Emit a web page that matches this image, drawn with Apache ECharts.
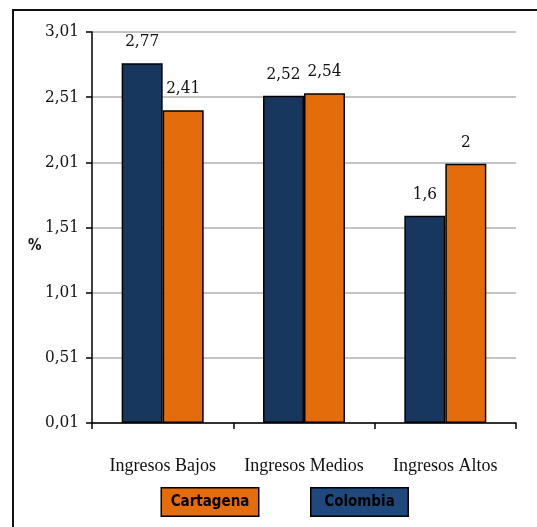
<!DOCTYPE html>
<html>
<head>
<meta charset="utf-8">
<script src="https://cdn.jsdelivr.net/npm/echarts@6/dist/echarts.min.js"></script>
<style>
  html, body { margin: 0; padding: 0; background: #fff; }
  #chart { width: 537px; height: 527px; }
</style>
</head>
<body>
<div id="chart"></div>
<script>
// Income groups and the share (%) for each territory
const categories = ['Ingresos Bajos', 'Ingresos Medios', 'Ingresos Altos'];
const colombia = [2.77, 2.52, 1.6];
const cartagena = [2.41, 2.54, 2];
const yTickStep = 0.5;
// the value axis starts at 0,01 instead of zero
const axisBase = 0.01;

const serif = "'DejaVu Serif Condensed', 'Liberation Serif', serif";
const plainSerif = "'Liberation Serif', serif";
const narrowSans = "'DejaVu Sans Condensed', 'Liberation Sans', sans-serif";
const comma = v => String(+v.toFixed(2)).replace('.', ',');

function barSeries(name, values, color) {
  return {
    name: name,
    type: 'bar',
    barWidth: 41,
    barGap: '0%',
    // bar length measured from the axis base
    data: values.map(v => v - axisBase),
    itemStyle: { color: color, borderColor: '#000', borderWidth: 1.5 },
    label: {
      show: true,
      position: 'top',
      distance: 13,
      fontFamily: serif,
      fontSize: 17,
      color: '#111',
      formatter: p => comma(values[p.dataIndex])
    }
  };
}

// legend entries are drawn as filled boxes with the name centred inside
const legendFontSize = 15;
const legendBoxWidth = 96;
const measureCtx = document.createElement('canvas').getContext('2d');
function legendBox(name, bg) {
  measureCtx.font = 'bold ' + legendFontSize + 'px ' + narrowSans;
  const side = Math.max(2, (legendBoxWidth - measureCtx.measureText(name).width) / 2);
  return {
    name: name,
    textStyle: {
      backgroundColor: bg,
      borderColor: '#000',
      borderWidth: 1.5,
      height: 19,
      padding: [4, side],
      fontFamily: narrowSans,
      fontWeight: 'bold',
      fontSize: legendFontSize,
      color: '#000'
    }
  };
}

const chart = echarts.init(document.getElementById('chart'), null, { renderer: 'canvas' });
chart.setOption({
  backgroundColor: '#fff',
  animation: false,
  grid: { left: 92, right: 21, top: 32, bottom: 104, containLabel: false },
  legend: {
    left: 151,
    top: 482,
    itemWidth: 0,
    itemHeight: 0,
    itemGap: 46,
    selectedMode: false,
    data: [
      legendBox('Cartagena', '#e46c0a'),
      legendBox('Colombia', '#1f497d')
    ]
  },
  xAxis: {
    type: 'category',
    data: categories,
    axisLine: { lineStyle: { color: '#000', width: 1.5 } },
    axisTick: { show: true, length: 6, lineStyle: { color: '#000', width: 1.5 } },
    axisLabel: { interval: 0, fontFamily: plainSerif, fontSize: 18, color: '#111', margin: 34 }
  },
  yAxis: {
    type: 'value',
    min: 0,
    max: 3,
    interval: yTickStep,
    axisLine: { show: true, lineStyle: { color: '#000', width: 1.5 } },
    axisTick: { show: true, length: 6, lineStyle: { color: '#000', width: 1.5 } },
    splitLine: { lineStyle: { color: '#c4c4c4', width: 2 } },
    axisLabel: {
      fontFamily: serif,
      fontSize: 17,
      color: '#111',
      margin: 13,
      formatter: v => (v + axisBase).toFixed(2).replace('.', ',')
    }
  },
  graphic: [{
    type: 'rect',
    shape: { x: 13, y: 10, width: 700, height: 700 },
    style: { fill: 'none', stroke: '#111', lineWidth: 2 },
    silent: true,
    z: -1
  }, {
    // value axis title
    type: 'text',
    left: 28,
    top: 239,
    style: { text: '%', fontFamily: narrowSans, fontWeight: 'bold', fontSize: 15, fill: '#111' }
  }],
  series: [
    barSeries('Colombia', colombia, '#17375e'),
    barSeries('Cartagena', cartagena, '#e46c0a')
  ]
});
</script>
</body>
</html>
